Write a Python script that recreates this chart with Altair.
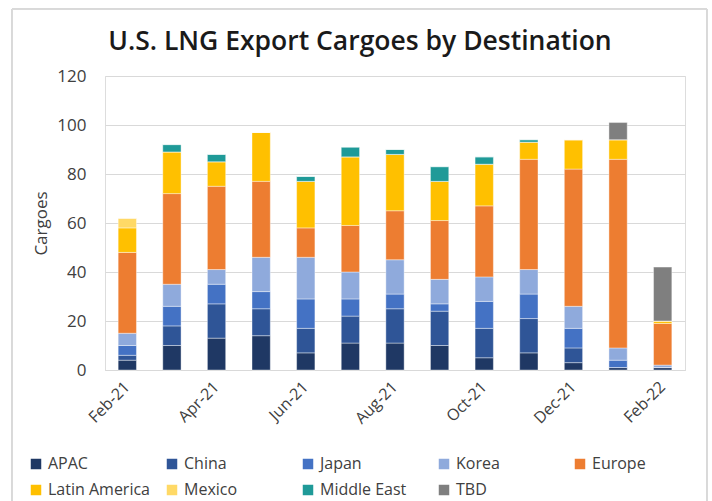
import altair as alt
import pandas as pd

months = ["Feb-21", "Mar-21", "Apr-21", "May-21", "Jun-21", "Jul-21", "Aug-21",
          "Sep-21", "Oct-21", "Nov-21", "Dec-21", "Jan-22", "Feb-22"]
shown_ticks = ["Feb-21", "Apr-21", "Jun-21", "Aug-21", "Oct-21", "Dec-21", "Feb-22"]

series_names = ["APAC", "China", "Japan", "Korea", "Europe",
                "Latin America", "Mexico", "Middle East", "TBD"]
series_colors = ["#1F3864", "#2F5597", "#4472C4", "#8FAADC", "#ED7D31",
                 "#FFC000", "#FFD966", "#1F9A98", "#7F7F7F"]

apac = [4, 10, 13, 14, 7, 11, 11, 10, 5, 7, 3, 1, 1]
china = [2, 8, 14, 11, 10, 11, 14, 14, 12, 14, 6, 0, 0]
japan = [4, 8, 8, 7, 12, 7, 6, 3, 11, 10, 8, 3, 0]
korea = [5, 9, 6, 14, 17, 11, 14, 10, 10, 10, 9, 5, 1]
europe = [33, 37, 34, 31, 12, 19, 20, 24, 29, 45, 56, 77, 17]
latin_america = [10, 17, 10, 20, 19, 28, 23, 16, 17, 7, 12, 8, 1]
mexico = [4, 0, 0, 0, 0, 0, 0, 0, 0, 0, 0, 0, 0]
middle_east = [0, 3, 3, 0, 2, 4, 2, 6, 3, 1, 0, 0, 0]
tbd = [0, 0, 0, 0, 0, 0, 0, 0, 0, 0, 0, 7, 22]

series_values = [apac, china, japan, korea, europe, latin_america,
                 mexico, middle_east, tbd]

rows = []
for order, (name, vals) in enumerate(zip(series_names, series_values)):
    for m, v in zip(months, vals):
        rows.append({"Month": m, "Destination": name, "Cargoes": v, "order": order})
df = pd.DataFrame(rows)

FONT = "Open Sans"

bars = alt.Chart(df).mark_bar(stroke="white", strokeWidth=0.4).encode(
    x=alt.X("Month:N", sort=months, title=None,
            scale=alt.Scale(paddingInner=0.59, paddingOuter=0.295),
            axis=alt.Axis(values=shown_ticks, labelAngle=-45, labelAlign="right",
                          labelBaseline="middle", labelPadding=14, ticks=False,
                          domainColor="#d9d9d9", labelFontSize=16,
                          labelColor="#404040", labelFont=FONT)),
    y=alt.Y("Cargoes:Q", title="Cargoes",
            scale=alt.Scale(domain=[0, 120]),
            axis=alt.Axis(values=[0, 20, 40, 60, 80, 100, 120], domain=False,
                          ticks=False, labelPadding=19, labelFontSize=17,
                          labelColor="#404040", labelFont=FONT,
                          titleFontSize=17, titleFont=FONT, titleFontWeight="normal",
                          titleColor="#404040", titlePadding=6,
                          gridColor="#d9d9d9")),
    color=alt.Color("Destination:N", sort=series_names,
                    scale=alt.Scale(domain=series_names, range=series_colors),
                    legend=alt.Legend(title=None, orient="none", legendX=-77, legendY=380,
                                      columns=5, direction="horizontal",
                                      gridAlign="all", columnPadding=14, rowPadding=10,
                                      symbolType="square", symbolSize=110,
                                      symbolStrokeWidth=0, labelFontSize=16,
                                      labelFont=FONT, labelColor="#404040",
                                      labelOffset=4, labelLimit=200)),
    order=alt.Order("order:Q", sort="ascending"),
)

frame = alt.Chart(df).mark_rect(fill=None, stroke="#d9d9d9", strokeWidth=1).encode(
    x=alt.value(-93), x2=alt.value(602), y=alt.value(-67), y2=alt.value(440)
)

chart = alt.layer(frame, bars).properties(
    width=580, height=294,
    title=alt.TitleParams("U.S. LNG Export Cargoes by Destination", fontSize=26.5,
                          fontWeight=600, font=FONT, color="#1a1a1a",
                          anchor="middle", dx=-35, offset=-47),
    autosize=alt.AutoSizeParams(type="none"),
    padding={"left": 105, "top": 76, "right": 27, "bottom": 131},
).configure_view(stroke=None).configure(background="white")

chart.save("out.html", embed_options={"renderer": "svg", "actions": False})
